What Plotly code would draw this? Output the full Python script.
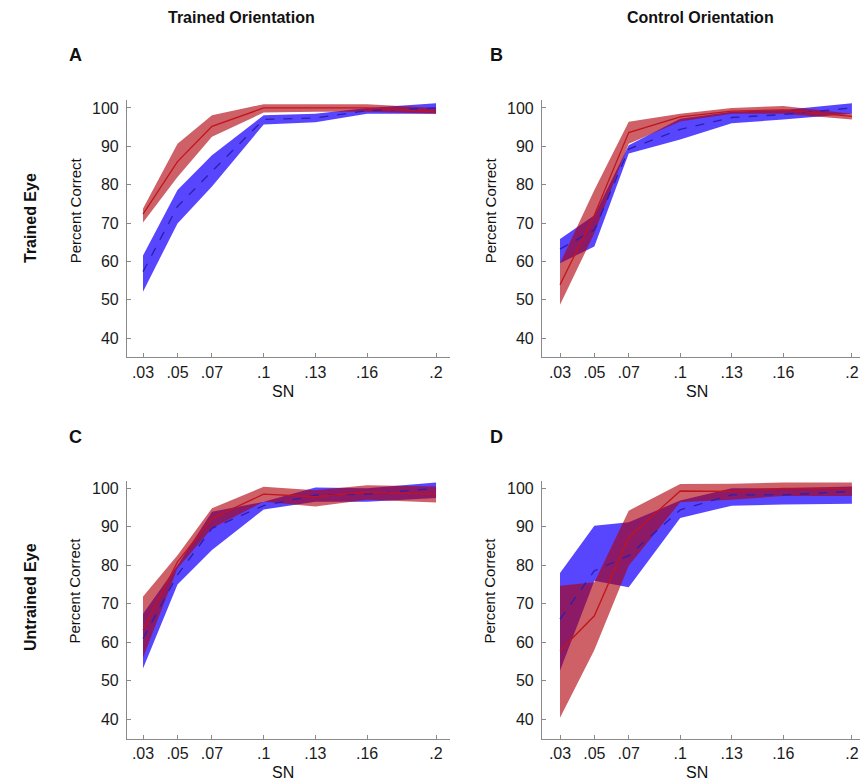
import plotly.graph_objects as go

# ---------------- data ----------------
sn = [0.03, 0.05, 0.07, 0.10, 0.13, 0.16, 0.20]
tick_labels = [".03", ".05", ".07", ".1", ".13", ".16", ".2"]

# Panel A: trained eye, trained orientation
a_red_mean = [72.3, 86.0, 95.2, 100.0, 100.0, 100.0, 99.0]
a_red_hi   = [73.8, 90.7, 98.1, 101.0, 101.0, 101.0, 100.0]
a_red_lo   = [70.1, 82.0, 92.5, 98.8, 99.0, 99.0, 98.5]
a_blue_mean = [57.3, 74.3, 83.5, 97.0, 97.4, 99.3, 100.0]
a_blue_hi   = [61.5, 78.6, 87.7, 98.1, 98.5, 100.0, 101.2]
a_blue_lo   = [52.1, 69.9, 79.5, 95.7, 96.3, 98.5, 98.5]

# Panel B: trained eye, control orientation
b_red_mean = [53.9, 72.1, 93.6, 97.7, 99.2, 99.5, 97.8]
b_red_hi   = [59.5, 78.6, 96.4, 98.5, 100.0, 100.5, 98.5]
b_red_lo   = [48.7, 67.3, 90.7, 96.5, 98.5, 98.5, 97.0]
b_blue_mean = [63.2, 68.2, 89.3, 94.4, 97.5, 98.3, 100.0]
b_blue_hi   = [65.8, 72.0, 90.3, 97.2, 99.0, 99.5, 101.2]
b_blue_lo   = [59.5, 63.9, 88.1, 91.8, 96.0, 97.0, 98.5]

# Panel C: untrained eye, trained orientation
c_red_mean = [63.2, 80.9, 92.2, 98.5, 97.8, 99.0, 98.5]
c_red_hi   = [71.9, 82.6, 94.8, 100.4, 99.5, 100.8, 100.5]
c_red_lo   = [56.0, 79.2, 89.6, 96.5, 95.3, 97.0, 96.3]
c_blue_mean = [61.0, 77.5, 89.6, 95.5, 98.2, 98.5, 100.0]
c_blue_hi   = [67.4, 80.0, 93.9, 96.5, 100.2, 100.0, 101.5]
c_blue_lo   = [53.2, 75.0, 84.0, 94.5, 96.5, 96.5, 97.5]

# Panel D: untrained eye, control orientation
d_red_mean = [57.8, 66.9, 87.3, 99.3, 99.2, 100.0, 100.0]
d_red_hi   = [74.7, 75.6, 94.2, 101.1, 101.2, 101.5, 101.5]
d_red_lo   = [40.4, 58.0, 79.9, 96.4, 97.0, 98.0, 98.0]
d_blue_mean = [66.0, 78.6, 82.5, 94.4, 98.3, 98.3, 99.2]
d_blue_hi   = [78.0, 90.3, 91.2, 96.8, 100.0, 100.0, 100.5]
d_blue_lo   = [52.6, 76.0, 74.3, 92.3, 95.5, 95.8, 96.0]

y_ticks = [40, 50, 60, 70, 80, 90, 100]

panels = [
    dict(red=(a_red_mean, a_red_hi, a_red_lo), blue=(a_blue_mean, a_blue_hi, a_blue_lo)),
    dict(red=(b_red_mean, b_red_hi, b_red_lo), blue=(b_blue_mean, b_blue_hi, b_blue_lo)),
    dict(red=(c_red_mean, c_red_hi, c_red_lo), blue=(c_blue_mean, c_blue_hi, c_blue_lo)),
    dict(red=(d_red_mean, d_red_hi, d_red_lo), blue=(d_blue_mean, d_blue_hi, d_blue_lo)),
]

# ---------------- layout geometry (pixels) ----------------
W, H = 860, 782
px_x = lambda p: p / W
px_y = lambda p: 1 - p / H

col_x = [(127, 450), (542, 860)]
col_xrange = [[0.0207, 0.2081], [0.0195, 0.2047]]
row_y = [(100.3, 357.2), (480.6, 738.6)]
yrange = [35, 102]

RED_FILL = "rgba(175,0,10,0.62)"
BLUE_FILL = "rgba(60,40,255,0.86)"
RED_LINE = "#c3141c"
BLUE_LINE = "#2e1fb0"
AXIS_COL = "#8a8a8a"
FONT = "Liberation Sans, Arial, Helvetica, sans-serif"

fig = go.Figure()
for i, p in enumerate(panels):
    r, c = divmod(i, 2)
    n = i + 1
    xa = "x" if n == 1 else f"x{n}"
    ya = "y" if n == 1 else f"y{n}"
    for key, fill in (("blue", BLUE_FILL), ("red", RED_FILL)):
        mean, hi, lo = p[key]
        fig.add_trace(go.Scatter(x=sn + sn[::-1], y=hi + lo[::-1], fill="toself",
                                 fillcolor=fill, line=dict(width=0), mode="lines",
                                 hoverinfo="skip", showlegend=False, xaxis=xa, yaxis=ya))
    for key, col, dash, w in (("blue", BLUE_LINE, "dash", 1.4), ("red", RED_LINE, "solid", 1.3)):
        mean = p[key][0]
        fig.add_trace(go.Scatter(x=sn, y=mean, mode="lines",
                                 line=dict(color=col, dash=dash, width=w),
                                 showlegend=False, xaxis=xa, yaxis=ya))

    x0, x1 = col_x[c]
    ytop, ybot = row_y[r]
    sfx = "" if n == 1 else str(n)
    fig.layout["xaxis" + sfx] = dict(
        domain=[px_x(x0), px_x(x1)], range=col_xrange[c], anchor=ya,
        tickvals=sn, ticktext=tick_labels, ticks="inside", ticklen=4, tickcolor=AXIS_COL,
        showline=True, linecolor=AXIS_COL, linewidth=1.2, showgrid=False, zeroline=False,
        tickfont=dict(size=16, color="#1a1a1a", family=FONT), ticklabelstandoff=0,
    )
    fig.layout["yaxis" + sfx] = dict(
        domain=[px_y(ybot), px_y(ytop)], range=yrange, anchor=xa,
        tickvals=y_ticks, ticks="inside", ticklen=4, tickcolor=AXIS_COL,
        showline=True, linecolor=AXIS_COL, linewidth=1.2, showgrid=False, zeroline=False,
        tickfont=dict(size=16, color="#1a1a1a", family=FONT), ticklabelstandoff=4,
    )

annotations = []
def ann(text, x, y, size, bold=False, angle=0, family=FONT, xanchor="center", yanchor="middle"):
    annotations.append(dict(text=f"<b>{text}</b>" if bold else text, x=px_x(x), y=px_y(y),
                            xref="paper", yref="paper", showarrow=False, textangle=angle,
                            xanchor=xanchor, yanchor=yanchor,
                            font=dict(size=size, color="#111111", family=family)))

COND = "Liberation Sans Narrow, Arial Narrow, Liberation Sans, Arial, sans-serif"
ann("Trained Orientation", 241, 18, 16, bold=True, family=COND)
ann("Control Orientation", 700, 18, 16, bold=True, family=COND)
ann("A", 75, 55, 18, bold=True, family=COND)
ann("B", 497, 55, 18, bold=True, family=COND)
ann("C", 75, 437, 18, bold=True, family=COND)
ann("D", 497, 437, 18, bold=True, family=COND)
ann("Trained Eye", 30, 218, 16, bold=True, angle=-90)
ann("Untrained Eye", 30, 597, 16, bold=True, angle=-90)
for c in range(2):
    x0, x1 = col_x[c]
    for r in range(2):
        ytop, ybot = row_y[r]
        ann("Percent Correct", x0 - 52, ytop + 110, 15, angle=-90)
        ann("SN", 283 if c == 0 else 697, ybot + 34, 16)

fig.update_layout(
    width=W, height=H, margin=dict(l=0, r=0, t=0, b=0),
    paper_bgcolor="white", plot_bgcolor="white",
    annotations=annotations, font=dict(family=FONT),
)
fig.write_html("out.html", config={"displayModeBar": False},
               post_script="document.body.style.margin='0px';")
